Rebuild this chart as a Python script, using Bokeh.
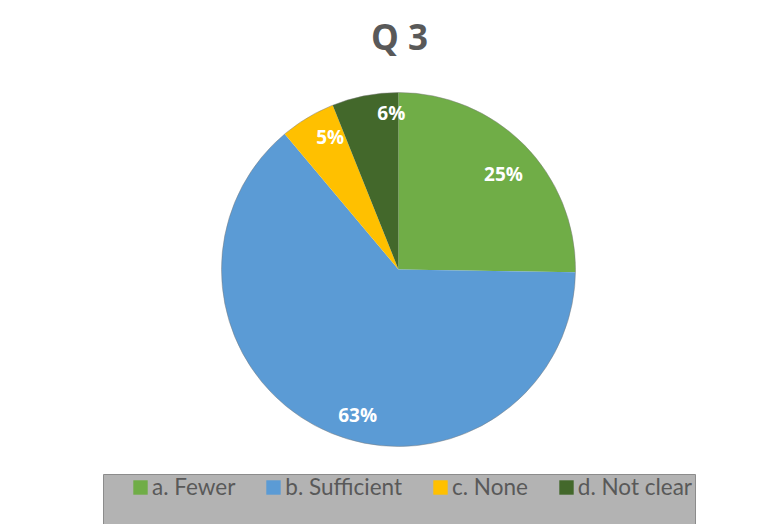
import math
from bokeh.plotting import figure
from bokeh.models import Range1d, Legend, LegendItem, ColumnDataSource
from bokeh.core.properties import value
from bokeh.embed import file_html
from bokeh.resources import INLINE

# ---- data ----
categories = ["a. Fewer", "b. Sufficient", "c. None", "d. Not clear"]
percents = [25, 63, 5, 6]
labels = ["25%", "63%", "5%", "6%"]
colors = ["#70ad47", "#5b9bd5", "#ffc000", "#43682b"]
title_text = "Q 3"

# label nudges in screen px (dx right, dy down) — layout only
label_nudge = [(-1, 9), (23, 11), (8, -5), (21, -11)]

W, H = 774, 524
p = figure(width=W, height=H, output_backend="svg", toolbar_location=None,
           x_range=Range1d(0, W), y_range=Range1d(0, H), min_border=0)
p.axis.visible = False
p.grid.visible = False
p.outline_line_color = None
p.background_fill_color = "white"

cx, cy, R = 398, 255, 177
total = sum(percents)
starts, ends, lx, ly = [], [], [], []
cum = 0.0
for v, (ndx, ndy) in zip(percents, label_nudge):
    a0 = math.pi / 2 - cum / total * 2 * math.pi
    cum += v
    a1 = math.pi / 2 - cum / total * 2 * math.pi
    starts.append(a0)
    ends.append(a1)
    mid = (a0 + a1) / 2
    lx.append(cx + 0.84 * R * math.cos(mid) + ndx)
    ly.append(cy + 0.84 * R * math.sin(mid) - ndy)

src = ColumnDataSource(dict(cat=categories, start=starts, end=ends, color=colors,
                            lab=labels, lx=lx, ly=ly))

# legend background box
p.quad(left=[103], right=[695], bottom=[-5], top=[50], fill_color="#b3b3b3",
       line_color="#8c8c8c", line_width=1)

r = p.wedge(x=cx, y=cy, radius=R, radius_units="screen", start_angle="start",
            end_angle="end", direction="clock", fill_color="color",
            line_color=None, source=src)
p.scatter(x=[cx], y=[cy], size=2 * R, fill_color=None, line_color="#7a7a7a",
          line_width=0.8, line_alpha=0.6)

p.text(x="lx", y="ly", text="lab", source=src, text_align="center",
       text_baseline="middle", text_color="white", text_font=value("Open Sans"),
       text_font_style="bold", text_font_size="19px")

p.text(x=[399], y=[488], text=[title_text], text_align="center",
       text_baseline="alphabetic", text_color="#595959", text_font=value("Open Sans"),
       text_font_style="bold", text_font_size="35px")

items = [LegendItem(label=c, renderers=[r], index=i) for i, c in enumerate(categories)]
legend = Legend(items=items, orientation="horizontal", location=(131, 24),
                background_fill_alpha=0, border_line_color=None,
                label_text_font="Lato", label_text_font_size="22.5px",
                label_text_color="#595959", glyph_width=18, glyph_height=18,
                label_standoff=3, spacing=29, padding=0, margin=0,
                label_height=18)
p.add_layout(legend, "center")

open("out.html", "w").write(file_html(p, INLINE))
